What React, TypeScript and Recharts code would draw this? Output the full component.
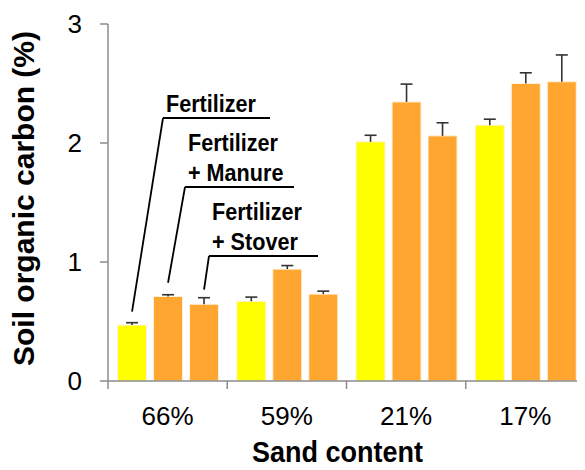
import { Bar, BarChart, XAxis, YAxis } from 'recharts';

const categories = ['66%', '59%', '21%', '17%'];
const fertilizer = [0.47, 0.67, 2.01, 2.15];
const fertilizerErr = [0.02, 0.035, 0.055, 0.05];
const manure = [0.71, 0.94, 2.345, 2.5];
const manureErr = [0.015, 0.03, 0.15, 0.09];
const stover = [0.645, 0.73, 2.06, 2.515];
const stoverErr = [0.055, 0.025, 0.11, 0.225];
const yTicks = [0, 1, 2, 3];

const rows = categories.map((sand, i) => ({
  sand,
  fertilizer: fertilizer[i],
  fertilizerErr: fertilizerErr[i],
  manure: manure[i],
  manureErr: manureErr[i],
  stover: stover[i],
  stoverErr: stoverErr[i],
}));

const FONT = '"Liberation Sans", Arial, Helvetica, sans-serif';
const AXIS = '#8c8c8c';
const YELLOW = '#ffff00';
const ORANGE = '#ffa630';

// leader-line callouts, anchored on the first group's bars
type Callout = { lines: string[]; hx: number; hy: number; len: number; gap: number };
const callouts: Record<string, Callout> = {
  fertilizer: { lines: ['Fertilizer'], hx: 155, hy: 110, len: 107, gap: 11 },
  manure: { lines: ['Fertilizer', '+ Manure'], hx: 177, hy: 179, len: 109, gap: 12 },
  stover: { lines: ['Fertilizer', '+ Stover'], hx: 201, hy: 248, len: 109, gap: 8 },
};

// bold text squeezed a little sideways, like the narrow-ish labels of the original
function Squeezed({ x, y, size, sx, anchor = 'start', children }: any) {
  return (
    <text
      transform={`translate(${x} ${y}) scale(${sx} 1)`}
      textAnchor={anchor}
      fontFamily={FONT}
      fontWeight="bold"
      fontSize={size}
      fill="#000"
    >
      {children}
    </text>
  );
}

function makeShape(key: 'fertilizer' | 'manure' | 'stover', color: string) {
  return function ErrBar(props: any) {
    const { x, y, width, height, payload, index } = props;
    const value = payload[key] as number;
    const err = payload[key + 'Err'] as number;
    const perUnit = value ? height / value : 0;
    const cx = x + width / 2;
    const top = y - err * perUnit;
    const note = index === 0 ? callouts[key] : null;
    return (
      <g>
        <rect x={x} y={y} width={width} height={height} fill={color} stroke="#fff3dc" strokeWidth={1} />
        <line x1={cx} y1={y} x2={cx} y2={top} stroke="#333" strokeWidth={1.6} />
        <line x1={cx - 6} y1={top} x2={cx + 6} y2={top} stroke="#333" strokeWidth={1.6} />
        {note && (
          <g>
            <line x1={cx} y1={top - note.gap} x2={note.hx} y2={note.hy} stroke="#000" strokeWidth={1.8} />
            <line x1={note.hx} y1={note.hy} x2={note.hx + note.len} y2={note.hy} stroke="#000" strokeWidth={1.8} />
            {note.lines.map((t, i) => (
              <Squeezed
                key={t}
                x={note.hx + 3}
                y={note.hy - 6.5 - (note.lines.length - 1 - i) * 30}
                size={24}
                sx={0.9}
              >
                {t}
              </Squeezed>
            ))}
          </g>
        )}
      </g>
    );
  };
}

function SandTick({ x, y, payload }: any) {
  const edge = x - (payload.offset ?? 0);
  return (
    <g>
      <line x1={edge} y1={y} x2={edge} y2={y + 8} stroke={AXIS} strokeWidth={1.5} />
      <text x={x} y={y + 44} textAnchor="middle" fontFamily={FONT} fontSize={26} fill="#000">
        {payload.value}
      </text>
    </g>
  );
}

export default function App() {
  return (
    <BarChart
      width={577}
      height={462}
      data={rows}
      margin={{ top: 16, right: 0, bottom: 0, left: 0 }}
      barCategoryGap="8%"
      barGap={7}
    >
      <XAxis
        dataKey="sand"
        height={89}
        axisLine={{ stroke: AXIS, strokeWidth: 1.5 }}
        tickLine={false}
        tickSize={0}
        tickMargin={0}
        tick={<SandTick />}
        interval={0}
        label={{
          content: ({ viewBox }: any) => (
            <Squeezed x={viewBox.x + viewBox.width / 2 - 9} y={viewBox.y + 81} size={30} sx={0.9} anchor="middle">
              Sand content
            </Squeezed>
          ),
        }}
      />
      <YAxis
        domain={[0, 3]}
        ticks={yTicks}
        width={100}
        axisLine={{ stroke: AXIS, strokeWidth: 1.5 }}
        tickLine={{ stroke: AXIS, strokeWidth: 1.5 }}
        tickSize={8}
        tickMargin={18}
        tick={{ fill: '#000', fontSize: 26, fontFamily: FONT }}
        label={{
          content: ({ viewBox }: any) => {
            const cx = viewBox.x + 26;
            const cy = viewBox.y + viewBox.height / 2 - 4;
            return (
              <text
                x={cx}
                y={cy}
                transform={`rotate(-90 ${cx} ${cy})`}
                textAnchor="middle"
                fontFamily={FONT}
                fontWeight="bold"
                fontSize={30}
                fill="#000"
              >
                Soil organic carbon (%)
              </text>
            );
          },
        }}
      />
      <Bar dataKey="fertilizer" fill={YELLOW} shape={makeShape('fertilizer', YELLOW)} isAnimationActive={false} />
      <Bar dataKey="manure" fill={ORANGE} shape={makeShape('manure', ORANGE)} isAnimationActive={false} />
      <Bar dataKey="stover" fill={ORANGE} shape={makeShape('stover', ORANGE)} isAnimationActive={false} />
    </BarChart>
  );
}
